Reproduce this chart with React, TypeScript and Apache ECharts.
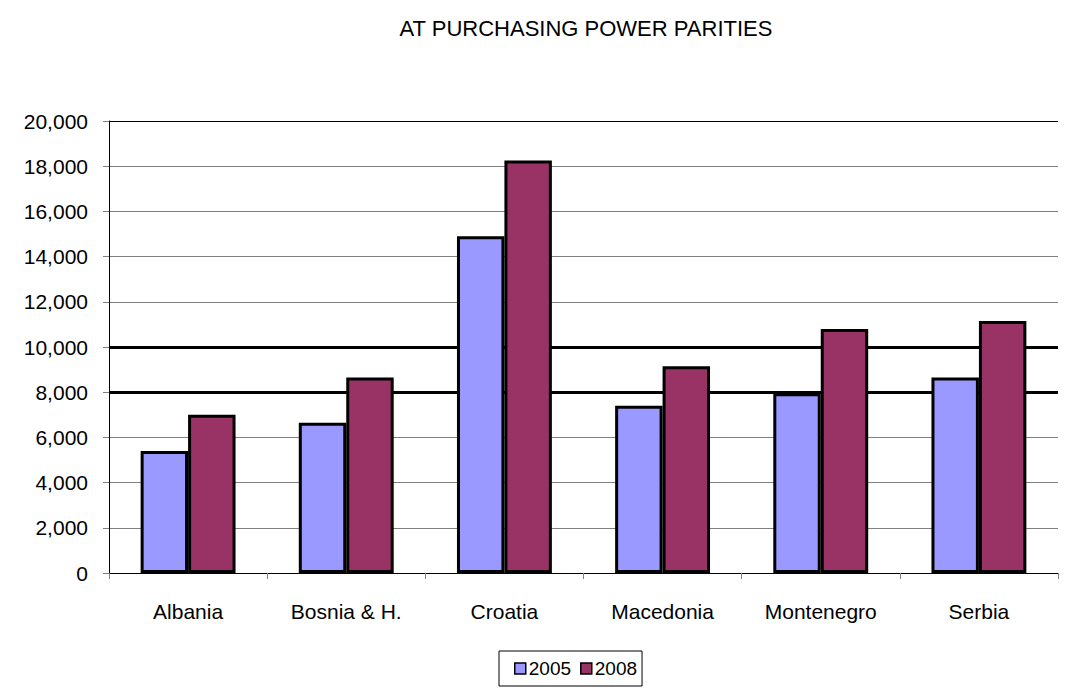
import React, { useEffect, useRef } from "react";
import * as echarts from "echarts";

const categories = ["Albania", "Bosnia & H.", "Croatia", "Macedonia", "Montenegro", "Serbia"];
const values2005 = [5400, 6650, 14900, 7400, 7950, 8650];
const values2008 = [7000, 8650, 18250, 9150, 10800, 11150];
const seriesNames = ["2005", "2008"];
const titleText = "AT PURCHASING POWER PARITIES";

const FONT = "'Liberation Sans', Arial, sans-serif";

export default function App() {
  const ref = useRef<HTMLDivElement>(null);
  useEffect(() => {
    document.body.style.margin = "0";
    const chart = echarts.init(ref.current!, undefined, { renderer: "svg" });
    const gridColors = ["#808080", "#808080", "#808080", "#808080", "#808080", "#808080", "#808080", "#808080", "#808080", "#808080", "#000000"];
    const thickColors = ["transparent", "transparent", "transparent", "transparent", "#000000", "#000000", "transparent", "transparent", "transparent", "transparent", "transparent"];
    chart.setOption({
      animation: false,
      backgroundColor: "#ffffff",
      textStyle: { fontFamily: FONT },
      graphic: [
        {
          type: "text",
          x: 586,
          y: 28,
          style: {
            text: titleText,
            font: `22px ${FONT}`,
            fill: "#000",
            textAlign: "center",
            textVerticalAlign: "middle",
          },
        },
      ],
      legend: {
        data: seriesNames,
        left: 499,
        top: 651,
        orient: "horizontal",
        itemWidth: 11,
        itemHeight: 11,
        itemGap: 9,
        padding: [8, 5, 8, 15],
        borderColor: "#000",
        borderWidth: 1,
        icon: "rect",
        itemStyle: { borderColor: "#000", borderWidth: 1.5 },
        textStyle: { fontFamily: FONT, fontSize: 19, color: "#000", padding: [0, 0, 0, -2] },
      },
      grid: { left: 109, right: 25, top: 121, bottom: 122, containLabel: false },
      xAxis: {
        type: "category",
        data: categories,
        axisLine: { lineStyle: { color: "#000", width: 1 } },
        axisTick: { show: true, length: 6, lineStyle: { color: "#808080" } },
        axisLabel: { color: "#000", fontSize: 21, fontFamily: FONT, margin: 28 },
      },
      yAxis: [
        {
          type: "value",
          min: 0,
          max: 20000,
          interval: 2000,
          axisLine: { show: true, lineStyle: { color: "#000", width: 1 } },
          axisTick: { show: true, length: 6, lineStyle: { color: "#808080" } },
          axisLabel: {
            color: "#000",
            fontSize: 21,
            fontFamily: FONT,
            margin: 21,
            formatter: (v: number) => v.toLocaleString("en-US"),
          },
          splitLine: { show: true, lineStyle: { color: gridColors, width: 1 } },
        },
        {
          type: "value",
          min: 0,
          max: 20000,
          interval: 2000,
          position: "left",
          axisLine: { show: false },
          axisTick: { show: false },
          axisLabel: { show: false },
          splitLine: { show: true, lineStyle: { color: thickColors, width: 3 } },
        },
      ],
      series: [
        {
          name: seriesNames[0],
          type: "bar",
          data: values2005,
          barGap: "0%",
          barCategoryGap: "40%",
          itemStyle: { color: "#9999FF", borderColor: "#000", borderWidth: 3 },
        },
        {
          name: seriesNames[1],
          type: "bar",
          data: values2008,
          barGap: "0%",
          barCategoryGap: "40%",
          itemStyle: { color: "#993366", borderColor: "#000", borderWidth: 3 },
        },
      ],
    });
    return () => chart.dispose();
  }, []);
  return <div ref={ref} style={{ width: 1083, height: 695 }} />;
}
